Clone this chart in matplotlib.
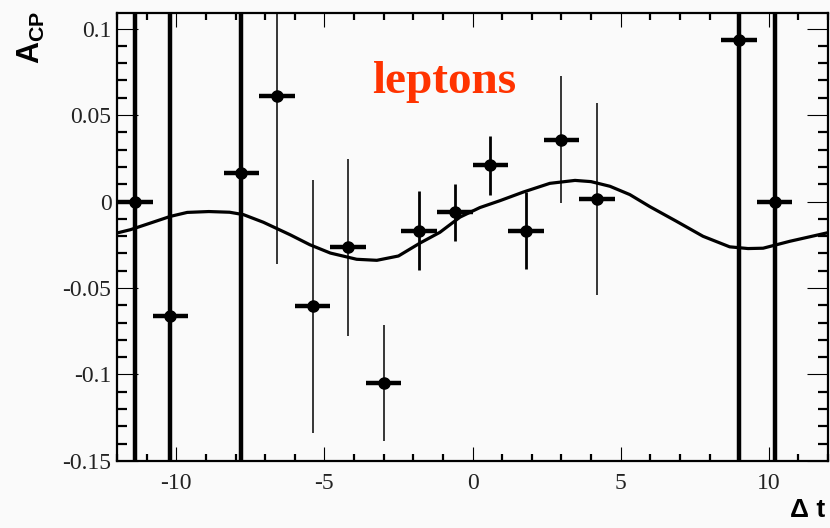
import matplotlib
matplotlib.use("Agg")
import matplotlib.pyplot as plt
import numpy as np

# data points (delta t bin centres, asymmetry, errors)
dt = [-11.4, -10.2, -7.8, -6.6, -5.4, -4.2, -3.0, -1.8, -0.6, 0.6, 1.8, 3.0, 4.2, 9.0, 10.2]
acp = [0.0, -0.0664, 0.0165, 0.0608, -0.0606, -0.0265, -0.1049, -0.0168,
       -0.0061, 0.0209, -0.0168, 0.0358, 0.0017, 0.0936, 0.0]
acp_err = [0.5, 0.5, 0.5, 0.097, 0.073, 0.051, 0.0335, 0.023,
           0.0165, 0.0172, 0.0225, 0.0368, 0.0555, 0.5, 0.5]
dt_err = [0.6] * len(dt)

# fit curve
fit_t = [-12.0, -11.55, -10.88, -10.2, -9.63, -8.9, -8.2, -7.73, -7.06, -6.16,
         -5.49, -4.8, -3.91, -3.23, -2.5, -1.77, -1.1, -0.42, 0.25, 0.93,
         1.72, 2.61, 3.46, 4.0, 4.64, 5.31, 5.99, 6.88, 7.78, 8.68,
         9.3, 9.81, 10.71, 11.95]
fit_a = [-0.0182, -0.0163, -0.0125, -0.0086, -0.0063, -0.0058, -0.0062, -0.0076, -0.0120, -0.0192,
         -0.0250, -0.0298, -0.0334, -0.0340, -0.0315, -0.0240, -0.0178, -0.0090, -0.0035, 0.0005,
         0.0055, 0.0105, 0.0122, 0.0115, 0.0088, 0.0040, -0.0030, -0.0114, -0.0201, -0.0262,
         -0.0272, -0.0270, -0.0230, -0.0182]

bg = "#fafafa"
fig = plt.figure(figsize=(8.3, 5.28), dpi=100, facecolor=bg)
ax = fig.add_axes([0.141, 0.127, 0.8566, 0.8484], facecolor=bg)

ax.plot(fit_t, fit_a, "-", color="k", lw=2.3, zorder=2, solid_joinstyle="round")

# horizontal bars
ax.errorbar(dt, acp, xerr=dt_err, fmt="none", ecolor="k", elinewidth=3.2, zorder=3)
# vertical bars: width depends on how the original rendered them
err = np.array(acp_err)
widths = np.where(err > 0.2, 3.2, np.where(err < 0.03, 2.0, 1.1))
ax.vlines(dt, np.array(acp) - err, np.array(acp) + err, colors="k",
          linewidths=widths, zorder=3)
ax.plot(dt, acp, "o", color="k", ms=8, zorder=4)

ax.set_xlim(-12, 12)
ax.set_ylim(-0.15, 0.109)
ax.set_xticks([-10, -5, 0, 5, 10])
ax.set_xticks(np.arange(-12, 13, 1), minor=True)
ax.set_yticks([-0.15, -0.1, -0.05, 0, 0.05, 0.1])
ax.set_yticks(np.arange(-0.15, 0.11, 0.01), minor=True)
ax.set_yticklabels(["-0.15", "-0.1", "-0.05", "0", "0.05", "0.1"])
ax.set_xticklabels(["-10", "-5", "0", "5", "10"])

ax.tick_params(axis="both", which="both", direction="in", top=True, right=True,
               labelsize=17, labelcolor="#222222")
ax.tick_params(axis="x", which="major", length=10, width=0.8, pad=9)
ax.tick_params(axis="x", which="minor", length=5, width=1.6)
ax.tick_params(axis="y", which="major", length=15, width=0.8, pad=4)
ax.tick_params(axis="y", which="minor", length=7, width=1.6)
for lab in ax.get_xticklabels() + ax.get_yticklabels():
    lab.set_family("Liberation Serif")
for s in ax.spines.values():
    s.set_linewidth(1.6)

plt.rcParams["mathtext.default"] = "regular"
fig.text(0.038, 0.979, "A$_{CP}$", rotation=90, ha="center", va="top",
         fontsize=22, family="Liberation Sans", fontweight="bold")
fig.text(0.994, 0.02, "\u0394 t", ha="right", va="baseline",
         fontsize=19, family="Liberation Sans", fontweight="bold")

ax.text(-3.39, 0.0625, "leptons", color="#ff3300", fontsize=34,
        family="Liberation Serif", fontweight="bold", ha="left", va="baseline")

fig.savefig("out.png", dpi=100, facecolor=bg)
